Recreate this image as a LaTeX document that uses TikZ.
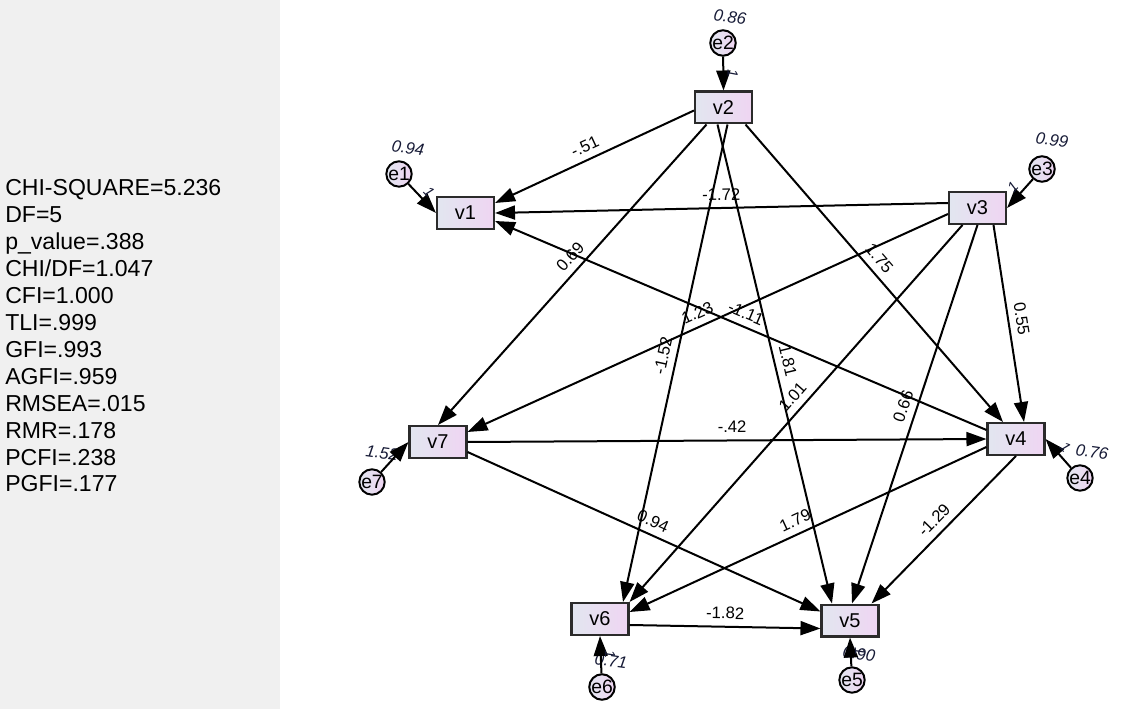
\documentclass[tikz,border=0pt]{standalone}
\usepackage{fontspec}
\setmainfont{Liberation Sans}
\usepackage{tikz}
\usetikzlibrary{arrows.meta}

\definecolor{panelgray}{HTML}{F0F0F0}
\definecolor{boxleft}{HTML}{E2E6F0}
\definecolor{boxright}{HTML}{EFD5F2}
\definecolor{boxline}{HTML}{2B2B2B}
\definecolor{varblue}{HTML}{161A36}

\tikzset{
  obs/.style={draw=boxline, line width=1.8pt, left color=boxleft, right color=boxright,
    minimum width=42.5pt, minimum height=23.7pt, inner sep=0pt,
    font=\fontsize{15}{16}\selectfont},
  err/.style={circle, draw=black, line width=1.5pt, left color=boxleft, right color=boxright,
    minimum size=18.5pt, inner sep=0pt, font=\fontsize{14.5}{15}\selectfont},
  reg/.style={-{Triangle[length=15pt,width=10.5pt]}, line width=1.5pt},
  coef/.style={sloped, above=4pt, inner sep=1pt, font=\fontsize{12.5}{14}\selectfont},
  var/.style={inner sep=0pt, rotate=-8, text=varblue, font=\fontsize{12.5}{14}\selectfont\itshape},
  fix/.style={sloped, above=2pt, inner sep=0.5pt, text=varblue, font=\fontsize{11}{12}\selectfont\itshape},
  stat/.style={anchor=base west, inner sep=0pt, font=\fontsize{17.3}{20}\selectfont},
}

\begin{document}
\begin{tikzpicture}[x=0.75pt, y=-0.75pt]
  \useasboundingbox (0,0) rectangle (1122,709);
  % fit indices panel
  \fill[panelgray] (0,0) rectangle (280,709);
  \foreach \s [count=\i from 0] in {CHI-SQUARE=5.236, DF=5, p\_value=.388, CHI/DF=1.047,
      CFI=1.000, TLI=.999, GFI=.993, AGFI=.959, RMSEA=.015, RMR=.178, PCFI=.238, PGFI=.177}
    \node[stat] (stat\i) at (5,{196+26.9*\i}) {\s};

  % error variances
  \node[var] (ve2) at (730,17) {0.86};
  \node[var] (ve1) at (408,148) {0.94};
  \node[var] (ve3) at (1052,140) {0.99};
  \node[var] (ve7) at (382,453) {1.52};
  \node[var] (ve4) at (1092,452) {0.76};
  \node[var] (ve6) at (611,661) {0.71};
  \node[var] (ve5) at (859,654) {0.90};

  % observed variables
  \node[obs] (v1) at (465.5,213) {v1};
  \node[obs] (v2) at (723.5,107.5) {v2};
  \node[obs] (v3) at (977.5,208) {v3};
  \node[obs] (v4) at (1016,439) {v4};
  \node[obs] (v5) at (850,620.5) {v5};
  \node[obs] (v6) at (600,619) {v6};
  \node[obs] (v7) at (438,442) {v7};

  % error terms
  \node[err] (e1) at (399,174) {e1};
  \node[err] (e2) at (723,43) {e2};
  \node[err] (e3) at (1042,169) {e3};
  \node[err] (e4) at (1080,478) {e4};
  \node[err] (e5) at (852,680) {e5};
  \node[err] (e6) at (602,687) {e6};
  \node[err] (e7) at (372,482) {e7};

  % paths
  \draw[reg] ([yshift=-2.25pt]v2.west) -- node[coef, pos=0.52] (c21) {-.51} ([yshift=7.5pt]v1.east);
  \draw[reg] ([yshift=3.75pt]v3.west) -- node[coef, pos=0.5] (c31) {-1.72} (v1.east);
  \draw[reg] ([yshift=6.75pt]v4.west) -- node[coef, pos=0.5] (c41) {-1.11} ([yshift=-6pt]v1.east);
  \draw[reg] ([xshift=-12.75pt]v2.south) -- node[coef, pos=0.47] (c27) {0.69} (v7.north);
  \draw[reg] ([xshift=3pt]v2.south) -- node[coef, pos=0.49] (c26) {-1.52} ([xshift=17.25pt]v6.north);
  \draw[reg] ([xshift=-4.5pt]v2.south) -- node[coef, pos=0.5] (c25) {1.81} ([xshift=-13.5pt]v5.north);
  \draw[reg] ([xshift=16.5pt]v2.south) -- node[coef, pos=0.48] (c24) {1.75} ([xshift=-9.75pt]v4.north);
  \draw[reg] ([yshift=-4.5pt]v3.west) -- node[coef, pos=0.51] (c37) {1.23} ([yshift=7.5pt]v7.east);
  \draw[reg] ([xshift=-11.25pt]v3.south) -- node[coef, pos=0.48] (c36) {1.01} (v6.north east);
  \draw[reg] (v3.south) -- node[coef, pos=0.49] (c35) {0.66} ([xshift=1.5pt]v5.north);
  \draw[reg] ([xshift=12pt]v3.south) -- node[coef, pos=0.485] (c34) {0.55} ([xshift=6pt]v4.north);
  \draw[reg] (v7.east) -- node[coef, pos=0.51] (c74) {-.42} (v4.west);
  \draw[reg] ([yshift=-7.5pt]v7.east) -- node[coef, pos=0.51] (c75) {0.94} ([yshift=6.75pt]v5.west);
  \draw[reg] ([yshift=-6pt]v4.west) -- node[coef, pos=0.52] (c46) {1.79} ([yshift=5.25pt]v6.east);
  \draw[reg] (v4.south) -- node[coef, pos=0.5] (c45) {-1.29} ([xshift=-6pt]v5.north east);
  \draw[reg] ([yshift=-4.5pt]v6.east) -- node[coef, pos=0.5] (c65) {-1.82} ([yshift=-6pt]v5.west);

  % error paths
  \draw[reg] (e1) -- node[fix] (f1) {1} (v1.west);
  \draw[reg] (e2) -- node[fix] (f2) {1} (v2.north);
  \draw[reg] (e3) -- node[fix] (f3) {1} (v3.east);
  \draw[reg] (e4) -- node[fix] (f4) {1} (v4.east);
  \draw[reg] (e5) -- node[fix] (f5) {1} (v5.south);
  \draw[reg] (e6) -- node[fix] (f6) {1} (v6.south);
  \draw[reg] (e7) -- (v7.west);
\end{tikzpicture}
\end{document}
